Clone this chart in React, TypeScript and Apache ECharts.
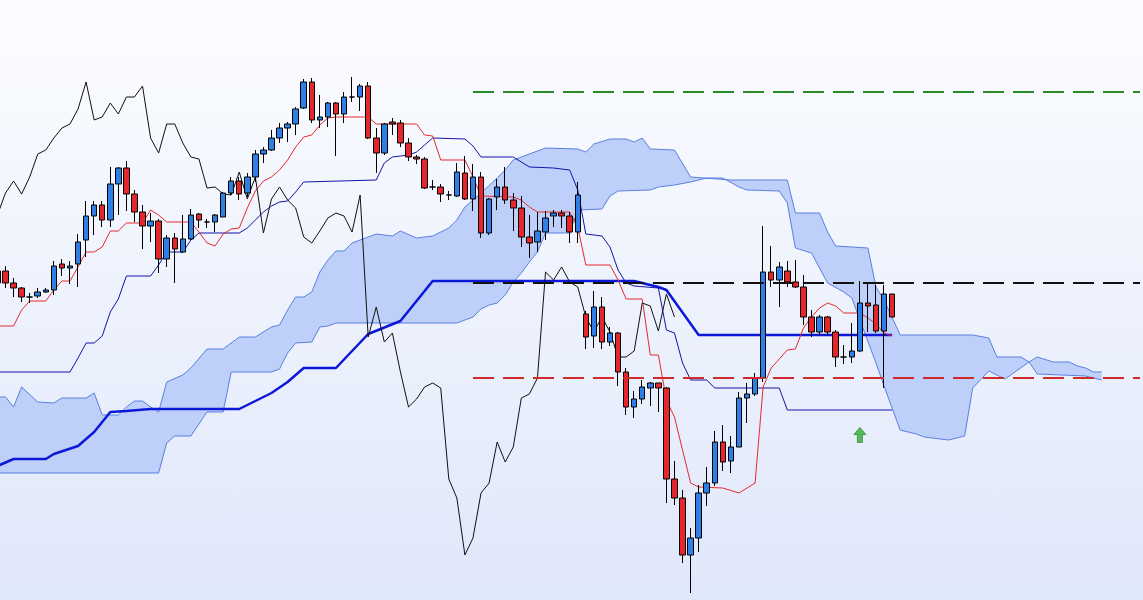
import React, { useEffect, useRef } from 'react';
import * as echarts from 'echarts';

// candle index k runs from -1 (partly hidden at the left edge) to 110
const firstIndex = -1;
const futureBars = 30;

const opens = [329, 329, 317, 312, 303, 304, 308, 310, 336, 332, 336, 360, 384, 395, 380, 416, 432, 406, 388, 374,
  379, 341, 362, 348, 361, 386, 378, 378, 383, 407, 419, 407, 423, 446, 450, 462, 472, 476, 492, 518,
  480, 483, 497, 486, 503, 503, 514, 462, 447, 478, 477, 457, 443, 441, 413, 413, 405, 404, 427, 401,
  423, 367, 403, 413, 400, 392, 363, 358, 368, 384, 387, 384, 368, 286, 264, 293, 258, 267, 228, 193,
  201, 212, 217, 212, 121, 102, 45, 62, 107, 117, 158, 139, 153, 202, 206, 222, 328, 320, 329, 318,
  313, 283, 268, 283, 268, 243, 243, 249, 297, 295, 269, 306];
const closes = [317, 317, 312, 303, 303, 308, 310, 334, 332, 334, 358, 384, 395, 380, 416, 432, 406, 388, 374, 379,
  341, 362, 351, 361, 385, 380, 378, 385, 407, 419, 406, 423, 446, 450, 462, 472, 476, 491, 518, 480,
  483, 497, 486, 503, 503, 514, 462, 447, 476, 476, 457, 443, 441, 412, 413, 406, 405, 428, 401, 423,
  367, 401, 413, 400, 392, 363, 357, 369, 382, 387, 384, 368, 405, 263, 293, 258, 267, 228, 193, 201,
  213, 217, 212, 121, 102, 45, 62, 107, 117, 158, 138, 153, 202, 206, 222, 328, 320, 333, 318, 313,
  283, 268, 283, 268, 243, 243, 249, 297, 294, 269, 306, 283];
const lows = [312, 312, 303, 298, 297, 302, 307, 305, 324, 316, 313, 343, 365, 373, 373, 385, 389, 378, 351, 358,
  327, 333, 317, 347, 360, 372, 372, 368, 383, 405, 400, 403, 418, 437, 449, 457, 458, 465, 491, 477,
  472, 473, 444, 477, 498, 489, 461, 427, 445, 465, 453, 439, 436, 411, 410, 398, 400, 403, 400, 389,
  362, 365, 390, 396, 369, 353, 342, 348, 360, 373, 372, 357, 357, 251, 252, 251, 254, 214, 185, 182,
  196, 194, 188, 97, 95, 37, 7, 48, 94, 114, 129, 127, 153, 177, 204, 218, 313, 293, 313, 312,
  275, 263, 265, 265, 233, 236, 237, 248, 268, 267, 212, 283];
const highs = [334, 334, 322, 313, 307, 312, 312, 339, 341, 339, 366, 399, 399, 399, 433, 433, 439, 410, 395, 387,
  381, 365, 367, 385, 391, 387, 381, 386, 408, 423, 423, 427, 450, 453, 470, 477, 478, 493, 521, 522,
  505, 498, 498, 508, 523, 516, 518, 472, 477, 482, 480, 462, 445, 443, 420, 416, 409, 437, 444, 436,
  428, 402, 421, 433, 407, 404, 385, 388, 389, 390, 390, 388, 418, 289, 309, 303, 273, 268, 232, 209,
  220, 218, 217, 213, 139, 110, 72, 115, 133, 169, 175, 164, 208, 217, 227, 374, 354, 338, 339, 340,
  325, 290, 285, 284, 270, 255, 277, 319, 317, 315, 315, 306];

// lagging span: closing prices shifted 26 bars back
const laggingShift = 26;

// conversion line (tenkan) [bar index, value]
const tenkan = [[-1, 274], [1, 274], [2, 290], [3, 299], [5, 299], [6, 310], [7, 319], [8, 319], [9, 333], [10, 348],
  [11, 348], [12, 353], [13, 369], [14, 369], [15, 377], [17, 377], [18, 390], [19, 385], [20, 378], [23, 378],
  [24, 368], [25, 357], [26, 354], [27, 366], [28, 371], [29, 372], [30, 392], [31, 409], [32, 419], [33, 423],
  [34, 430], [35, 440], [36, 453], [37, 463], [38, 465], [39, 475], [40, 482], [41, 483], [45, 483], [46, 476],
  [51, 476], [52, 465], [53, 464], [54, 440], [57, 440], [58, 423], [59, 404], [63, 403], [64, 400], [65, 393],
  [66, 388], [70, 388], [71, 373], [72, 335], [75, 335], [76, 320], [77, 301], [79, 301], [80, 245], [81, 245],
  [82, 200], [83, 183], [84, 150], [85, 117], [86, 113], [89, 112], [91, 107], [93, 117], [94, 213], [95, 232],
  [97, 250], [98, 251], [99, 272], [100, 283], [101, 292], [102, 297], [103, 294], [104, 287], [106, 287], [107, 282],
  [108, 276], [109, 267], [110, 264]];

// base line (kijun)
const kijun = [[-1, 228], [8, 228], [9, 242], [10, 257], [11, 257], [12, 264], [13, 288], [14, 301], [15, 324], [18, 324],
  [19, 335], [20, 348], [22, 348], [23, 360], [24, 367], [29, 367], [30, 372], [31, 380], [32, 388], [33, 394],
  [34, 398], [35, 399], [36, 408], [37, 418], [46, 420], [47, 437], [48, 443], [50, 445], [51, 448], [52, 455],
  [53, 462], [57, 461], [58, 454], [59, 443], [63, 443], [64, 438], [65, 433], [68, 432], [70, 430], [71, 410],
  [72, 366], [74, 364], [75, 353], [76, 330], [77, 317], [78, 314], [81, 312], [82, 270], [83, 267], [84, 237],
  [85, 220], [87, 220], [88, 212], [96, 212], [97, 190], [110, 190]];

// long-period midline (thick blue)
const longMid = [[-1, 134], [1, 141], [5, 141], [6, 146], [9, 154], [11, 168], [13, 188], [15, 189], [18, 191], [29, 191],
  [33, 207], [35, 218], [37, 232], [41, 232], [45, 266], [49, 279], [53, 319], [78, 319], [81, 313], [82, 310],
  [86, 265], [110, 265]];

// cloud boundaries (leading spans, already shifted forward)
const cloudUpper = [[-1, 203], [0, 203], [1, 193], [2, 213], [4, 198], [6, 197], [7, 202], [10, 202], [11, 207], [12, 185],
  [14, 185], [15, 193], [16, 199], [17, 199], [18, 193], [19, 188], [20, 218], [22, 225], [23, 232], [25, 251],
  [27, 251], [29, 263], [31, 263], [33, 273], [34, 275], [35, 290], [36, 303], [37, 303], [38, 308], [39, 328],
  [40, 340], [41, 349], [42, 349], [43, 357], [44, 360], [46, 366], [48, 364], [49, 369], [51, 362], [53, 364],
  [54, 368], [55, 372], [56, 380], [57, 393], [59, 407], [61, 422], [62, 430], [63, 440], [65, 446], [67, 452],
  [71, 451], [72, 448], [73, 456], [75, 461], [77, 461], [78, 458], [79, 462], [80, 451], [83, 450], [85, 423],
  [90, 420], [97, 420], [98, 387], [101, 387], [102, 368], [103, 354], [107, 352], [108, 313], [109, 300], [111, 265],
  [120, 265], [122, 262], [123, 243], [126, 243], [127, 238], [128, 243], [130, 238], [132, 238], [133, 234], [134, 232],
  [135, 228], [136, 228]];
const cloudLower = [[-1, 127], [19, 127], [20, 157], [21, 164], [23, 164], [25, 188], [27, 188], [28, 228], [33, 228], [34, 231],
  [35, 247], [36, 257], [38, 258], [39, 273], [40, 274], [41, 277], [56, 277], [58, 283], [59, 291], [60, 295],
  [61, 297], [62, 305], [63, 318], [64, 327], [65, 338], [66, 348], [67, 367], [70, 367], [71, 390], [74, 391],
  [75, 404], [76, 409], [80, 410], [81, 413], [83, 415], [85, 418], [87, 422], [89, 422], [91, 413], [92, 410],
  [96, 409], [97, 397], [98, 352], [100, 347], [102, 317], [104, 308], [105, 302], [108, 237], [109, 214], [111, 170],
  [113, 166], [114, 163], [117, 160], [119, 164], [120, 212], [122, 229], [124, 221], [127, 238], [128, 226], [134, 224],
  [136, 220]];

// horizontal levels (resistance / pivot / support) starting at bar 58
const levelStart = 58;
const levelEnd = 145;
const levelValues = [508, 317, 222];

// buy signal marker
const signalBar = 106;
const signalValue = 165;

export default function App() {
  const ref = useRef<HTMLDivElement>(null);

  useEffect(() => {
    if (!ref.current) return;
    const chart = echarts.init(ref.current, null, { renderer: 'svg' });

    const nCat = closes.length + futureBars;
    const cats = Array.from({ length: nCat }, (_, i) => String(firstIndex + i));
    const candles = opens.map((o, i) => [o, closes[i], lows[i], highs[i]]);
    const lagging = closes.slice(laggingShift + 1).map((c, i) => [firstIndex + i, c]);
    const xMin = firstIndex - 0.5;
    const xMax = firstIndex + nCat - 0.5;
    const spacing = 8.06;
    const offset = 20;
    const left = offset + 5.5 - 1.5 * spacing;
    const width = nCat * spacing;

    const lineSeries = (data: number[][], color: string, w: number, z: number) => ({
      type: 'line',
      xAxisIndex: 1,
      yAxisIndex: 0,
      data,
      symbol: 'none',
      showSymbol: false,
      clip: false,
      lineStyle: { color, width: w },
      z,
      silent: true,
    });

    const levelColors = ['#2a8a2a', '#111111', '#d02a2a'];

    const option: any = {
      animation: false,
      backgroundColor: new echarts.graphic.LinearGradient(0, 0, 0, 1, [
        { offset: 0, color: '#fcfdff' },
        { offset: 1, color: '#dfe7fa' },
      ]),
      grid: { left, width, top: 0, bottom: 0, containLabel: false },
      xAxis: [
        { type: 'category', data: cats, show: false, boundaryGap: true },
        { type: 'value', min: xMin, max: xMax, show: false },
      ],
      yAxis: [{ type: 'value', min: 0, max: 600, show: false, splitLine: { show: false } }],
      series: [
        {
          type: 'custom',
          xAxisIndex: 1,
          yAxisIndex: 0,
          data: [[0, 0]],
          z: 1,
          silent: true,
          clip: false,
          renderItem: (params: any, api: any) => {
            const pts = cloudUpper.map((p) => api.coord(p)).concat(
              cloudLower.slice().reverse().map((p) => api.coord(p))
            );
            return { type: 'polygon', shape: { points: pts }, style: { fill: '#bed0f9', stroke: 'none' } };
          },
        },
        lineSeries(cloudUpper, '#5a80df', 1, 2),
        lineSeries(cloudLower, '#5a80df', 1, 2),
        lineSeries(longMid, '#0c18d8', 2.5, 3),
        lineSeries(kijun, '#1414a6', 1, 3),
        lineSeries(tenkan, '#e62a2e', 1, 3),
        lineSeries(lagging, '#111111', 1, 3),
        {
          type: 'candlestick',
          xAxisIndex: 0,
          yAxisIndex: 0,
          data: candles,
          barWidth: 6,
          z: 4,
          itemStyle: {
            color: '#2f80e6',
            color0: '#e5262c',
            borderColor: '#000000',
            borderColor0: '#000000',
            borderColorDoji: '#000000',
            borderWidth: 1,
          },
        },
        ...levelValues.map((v, i) => ({
          type: 'line',
          xAxisIndex: 1,
          yAxisIndex: 0,
          data: [[levelStart, v], [levelEnd, v]],
          symbol: 'none',
          clip: false,
          lineStyle: { color: levelColors[i], width: 2, type: [21, 9] },
          z: 5,
          silent: true,
        })),
        {
          type: 'scatter',
          xAxisIndex: 1,
          yAxisIndex: 0,
          data: [[signalBar, signalValue]],
          symbol: 'path://M6,0 L12,7 L8.5,7 L8.5,15 L3.5,15 L3.5,7 L0,7 Z',
          symbolSize: [12, 15],
          itemStyle: { color: '#2fae2f', borderColor: '#1f7a1f', borderWidth: 0.8 },
          z: 6,
          silent: true,
        },
      ],
    };

    chart.setOption(option);
    return () => chart.dispose();
  }, []);

  return (
    <div
      ref={ref}
      style={{ position: 'fixed', left: -20, top: 0, width: 1163, height: 600 }}
    />
  );
}
